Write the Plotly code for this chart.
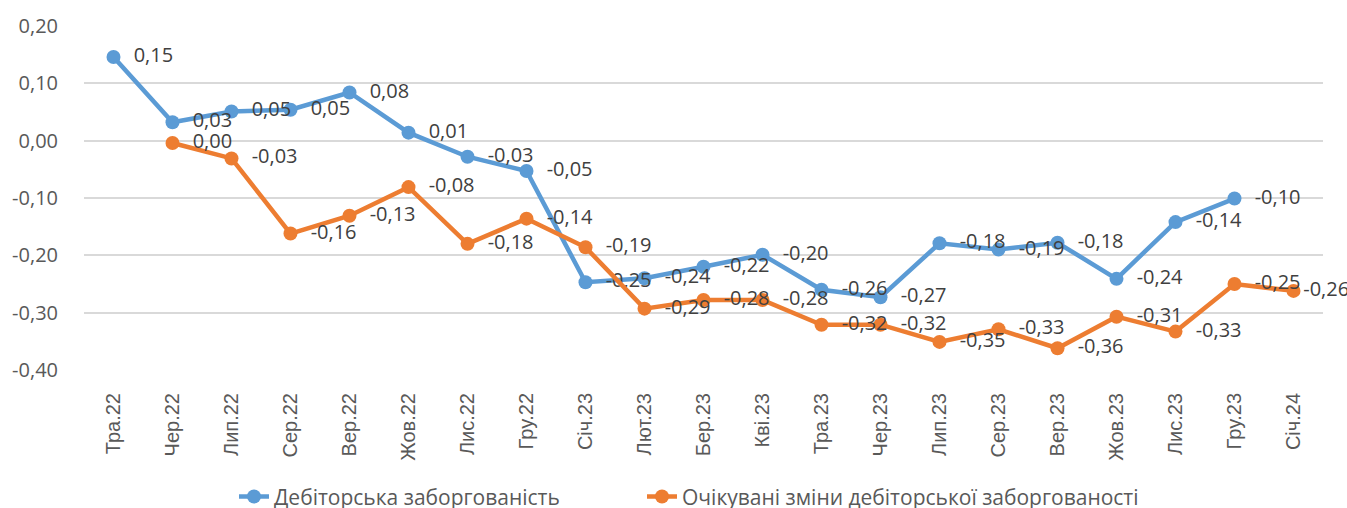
import plotly.graph_objects as go

months = ["Тра.22", "Чер.22", "Лип.22", "Сер.22", "Вер.22", "Жов.22", "Лис.22",
          "Гру.22", "Січ.23", "Лют.23", "Бер.23", "Кві.23", "Тра.23", "Чер.23",
          "Лип.23", "Сер.23", "Вер.23", "Жов.23", "Лис.23", "Гру.23", "Січ.24"]

receivables = [0.146, 0.032, 0.051, 0.054, 0.084, 0.014, -0.028, -0.053, -0.247,
               -0.240, -0.220, -0.199, -0.260, -0.273, -0.179, -0.190, -0.178,
               -0.241, -0.142, -0.101, None]

expected = [None, -0.004, -0.031, -0.162, -0.131, -0.081, -0.180, -0.136, -0.186,
            -0.293, -0.278, -0.278, -0.321, -0.321, -0.351, -0.329, -0.362,
            -0.307, -0.333, -0.250, -0.262]

y_ticks = [0.20, 0.10, 0.00, -0.10, -0.20, -0.30, -0.40]
y_tick_text = ["0,20", "0,10", "0,00", "-0,10", "-0,20", "-0,30", "-0,40"]

names = ["Дебіторська заборгованість", "Очікувані зміни дебіторської заборгованості"]
colors = ["#5B9BD5", "#ED7D31"]

FONT = "Open Sans"
PAD = "\u00a0\u00a0"  # Excel puts labels a bit further right of the marker


def fmt(v, pad=PAD):
    if v is None:
        return ""
    s = f"{v:.2f}"
    if s == "-0.00":
        s = "0.00"
    return pad + s.replace(".", ",")


def labels(vals):
    out = [fmt(v) for v in vals]
    # last point sits at the right edge, Excel pulls that label in
    if vals[-1] is not None:
        out[-1] = fmt(vals[-1], pad="")
    return out


fig = go.Figure()
for i, (name, vals, color) in enumerate(zip(names, [receivables, expected], colors)):
    fig.add_trace(go.Scatter(
        x=months, y=vals, name=name,
        mode="lines+markers+text",
        line=dict(color=color, width=4.5),
        marker=dict(color=color, size=14),
        text=labels(vals),
        textposition="middle right",
        textfont=dict(family=FONT, size=20, color="#404040"),
        cliponaxis=False,
        connectgaps=False,
        legend="legend" if i == 0 else "legend2",
    ))

legend_style = dict(
    orientation="h", xref="container", yref="container",
    xanchor="left", y=0.022, yanchor="middle",
    font=dict(family=FONT, size=21, color="#595959"),
    bgcolor="rgba(0,0,0,0)",
)

fig.update_layout(
    width=1347, height=508,
    margin=dict(l=82, r=24, t=24, b=138),
    paper_bgcolor="white", plot_bgcolor="white",
    font=dict(family=FONT, size=20, color="#595959"),
    showlegend=True,
    legend=dict(x=234 / 1347, **legend_style),
    legend2=dict(x=642 / 1347, **legend_style),
)
fig.update_xaxes(
    type="category", range=[-0.5, len(months) - 0.5],
    tickangle=-90, showgrid=False, showline=False, ticks="",
    tickfont=dict(family="Liberation Sans", size=20, color="#595959"),
    ticklabelstandoff=18,
)
fig.update_yaxes(
    range=[-0.40, 0.20], tickvals=y_ticks, ticktext=y_tick_text,
    showgrid=True, gridcolor="#D9D9D9", gridwidth=1.7,
    zeroline=False, showline=False, ticks="",
    tickfont=dict(family=FONT, size=20, color="#595959"),
    ticklabelstandoff=25,
)

fig.write_html("out.html", config={"displayModeBar": False},
               post_script="document.body.style.margin='0';")
